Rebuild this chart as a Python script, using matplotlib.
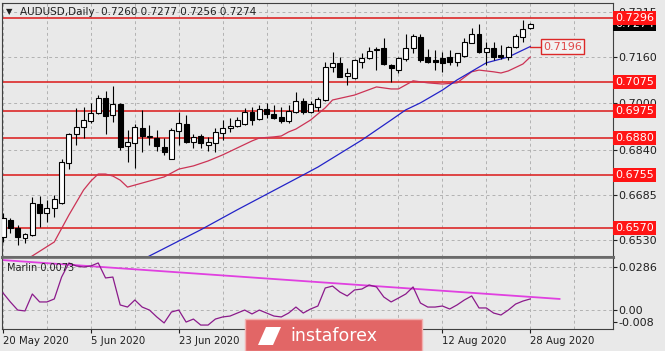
import matplotlib
matplotlib.use("Agg")
import matplotlib.pyplot as plt
import matplotlib.transforms as mtransforms
from matplotlib.patches import Rectangle, Polygon

W, H = 665, 351

# daily candles, 20 May 2020 .. 28 Aug 2020
opens = [0.6541, 0.6599, 0.6572, 0.6537, 0.6548, 0.6654, 0.6623, 0.6641, 0.6658, 0.6795,
         0.6895, 0.6919, 0.6940, 0.6967, 0.7019, 0.6961, 0.6999, 0.6854, 0.6864, 0.6916,
         0.6885, 0.6882, 0.6851, 0.6809, 0.6906, 0.6930, 0.6868, 0.6888, 0.6857, 0.6864,
         0.6899, 0.6916, 0.6923, 0.6930, 0.6971, 0.6947, 0.6981, 0.6964, 0.6954, 0.6940,
         0.6971, 0.7009, 0.6971, 0.6988, 0.7012, 0.7126, 0.7140, 0.7095, 0.7088, 0.7143,
         0.7157, 0.7184, 0.7191, 0.7133, 0.7115, 0.7153, 0.7191, 0.7229, 0.7160, 0.7150,
         0.7157, 0.7160, 0.7143, 0.7164, 0.7208, 0.7239, 0.7177, 0.7191, 0.7167, 0.7160,
         0.7195, 0.7229, 0.7260]
highs = [0.6623, 0.6606, 0.6582, 0.6555, 0.6679, 0.6682, 0.6668, 0.6685, 0.6809, 0.6899,
         0.6985, 0.6988, 0.7002, 0.7029, 0.7043, 0.7060, 0.7002, 0.6909, 0.6930, 0.6978,
         0.6926, 0.6909, 0.6882, 0.6916, 0.6971, 0.6961, 0.6895, 0.6895, 0.6885, 0.6916,
         0.6943, 0.6950, 0.6954, 0.6985, 0.6988, 0.6995, 0.7002, 0.6995, 0.6988, 0.6995,
         0.7040, 0.7019, 0.7009, 0.7023, 0.7143, 0.7177, 0.7160, 0.7122, 0.7153, 0.7174,
         0.7195, 0.7195, 0.7226, 0.7136, 0.7160, 0.7239, 0.7239, 0.7239, 0.7188, 0.7184,
         0.7177, 0.7184, 0.7174, 0.7226, 0.7260, 0.7274, 0.7212, 0.7212, 0.7201, 0.7198,
         0.7239, 0.7287, 0.7277]
lows = [0.6524, 0.6555, 0.6513, 0.6520, 0.6544, 0.6575, 0.6592, 0.6610, 0.6654, 0.6775,
        0.6857, 0.6882, 0.6933, 0.6964, 0.6895, 0.6936, 0.6840, 0.6799, 0.6778, 0.6833,
        0.6857, 0.6837, 0.6823, 0.6809, 0.6857, 0.6864, 0.6847, 0.6847, 0.6837, 0.6833,
        0.6875, 0.6902, 0.6919, 0.6926, 0.6926, 0.6943, 0.6950, 0.6947, 0.6933, 0.6933,
        0.6967, 0.6964, 0.6967, 0.6974, 0.7009, 0.7109, 0.7091, 0.7064, 0.7085, 0.7122,
        0.7153, 0.7115, 0.7133, 0.7074, 0.7105, 0.7146, 0.7174, 0.7143, 0.7140, 0.7115,
        0.7109, 0.7133, 0.7129, 0.7160, 0.7208, 0.7174, 0.7133, 0.7150, 0.7153, 0.7150,
        0.7191, 0.7212, 0.7256]
closes = [0.6606, 0.6572, 0.6541, 0.6551, 0.6658, 0.6623, 0.6641, 0.6672, 0.6799, 0.6895,
          0.6919, 0.6943, 0.6967, 0.7019, 0.6957, 0.6999, 0.6851, 0.6868, 0.6919, 0.6888,
          0.6888, 0.6854, 0.6833, 0.6909, 0.6933, 0.6868, 0.6885, 0.6864, 0.6868, 0.6902,
          0.6916, 0.6923, 0.6943, 0.6971, 0.6943, 0.6981, 0.6964, 0.6950, 0.6940, 0.6974,
          0.7009, 0.6971, 0.6999, 0.7016, 0.7126, 0.7140, 0.7091, 0.7105, 0.7150, 0.7157,
          0.7181, 0.7188, 0.7136, 0.7122, 0.7157, 0.7191, 0.7232, 0.7150, 0.7143, 0.7143,
          0.7140, 0.7143, 0.7174, 0.7212, 0.7239, 0.7177, 0.7191, 0.7160, 0.7160, 0.7195,
          0.7232, 0.7256, 0.7274]

# moving averages
red_idx = [3, 4, 7, 9, 11, 12, 13, 14, 15, 16, 17, 19, 22, 24, 26, 28, 30, 32, 34, 35,
           37, 38, 39, 40, 42, 44, 45, 48, 51, 53, 54, 56, 58, 60, 62, 64, 65, 67, 68, 69,
           71, 72]
red_ma = [0.6460, 0.6475, 0.6523, 0.6616, 0.6702, 0.6733, 0.6757, 0.6757, 0.6750, 0.6736,
          0.6712, 0.6726, 0.6747, 0.6774, 0.6785, 0.6802, 0.6823, 0.6847, 0.6871, 0.6881,
          0.6885, 0.6888, 0.6902, 0.6912, 0.6943, 0.6985, 0.7012, 0.7029, 0.7057, 0.7050,
          0.7050, 0.7078, 0.7071, 0.7067, 0.7071, 0.7109, 0.7115, 0.7109, 0.7105, 0.7112,
          0.7136, 0.7160]
blue_idx = [19, 20, 27, 32, 41, 43, 49, 53, 55, 57, 60, 62, 66, 69, 72]
blue_ma = [0.6461, 0.6475, 0.6565, 0.6634, 0.6754, 0.6781, 0.6874, 0.6943, 0.6978, 0.7002,
           0.7046, 0.7081, 0.7140, 0.7160, 0.7196]

# Marlin oscillator
marlin = [0.0113, 0.0053, -0.0001, -0.0007, 0.0106, 0.0053, 0.0053, 0.0073, 0.0219, 0.0313,
          0.0293, 0.0286, 0.0293, 0.0313, 0.0213, 0.0219, 0.0033, 0.0019, 0.0066, 0.0019,
          -0.0001, -0.0047, -0.0087, -0.0014, -0.0001, -0.0081, -0.0061, -0.0101, -0.0101, -0.0061,
          -0.0047, -0.0041, -0.0021, -0.0001, -0.0027, -0.0001, -0.0021, -0.0041, -0.0047, -0.0021,
          0.0019, -0.0021, 0.0006, 0.0026, 0.0146, 0.0159, 0.0119, 0.0093, 0.0133, 0.0139,
          0.0166, 0.0153, 0.0086, 0.0053, 0.0079, 0.0106, 0.0153, 0.0046, 0.0019, 0.0019,
          0.0026, 0.0006, 0.0033, 0.0066, 0.0093, 0.0013, 0.0013, -0.0021, -0.0034, -0.0001,
          0.0039, 0.0059, 0.0073]
trend_idx = [0, 76]
trend_val = [0.0332, 0.0073]

levels = [0.7296, 0.7075, 0.6975, 0.6880, 0.6755, 0.6570]
price_ticks = [0.7315, 0.7160, 0.7000, 0.6840, 0.6685, 0.6530]
osc_ticks = [0.0286, 0.0, -0.008]
osc_labels = ["0.0286", "0.00", "-0.008"]
date_pos = [0, 12, 24, 60, 72]
date_labels = ["20 May 2020", "5 Jun 2020", "23 Jun 2020", "12 Aug 2020", "28 Aug 2020"]

bg = "#e9e9e9"
grid_c = "#b2b2b2"
dash = (0, (3, 3))

fig = plt.figure(figsize=(W / 100, H / 100), dpi=100, facecolor=bg)


def box(l, t, r, b):
    return [l / W, 1 - b / H, (r - l) / W, (b - t) / H]


ax = fig.add_axes(box(2, 3, 613, 257), facecolor=bg)
ax2 = fig.add_axes(box(2, 258, 613, 329), facecolor=bg)

xmin, xmax = -0.14, 83.3
ax.set_xlim(xmin, xmax)
ax.set_ylim(0.64713, 0.73460)
ax2.set_xlim(xmin, xmax)
ax2.set_ylim(-0.01273, 0.0346)

for a in (ax, ax2):
    for g in range(0, 84, 6):
        a.axvline(g, color=grid_c, lw=0.7, ls=dash, zorder=0)
    for s in a.spines.values():
        s.set_color("#404040")
        s.set_linewidth(0.8)
ax.spines["bottom"].set_color("#6a6a6a")
ax.spines["bottom"].set_linewidth(2.2)
ax2.spines["top"].set_color("#6a6a6a")
ax2.spines["top"].set_linewidth(1.2)

for p in price_ticks:
    ax.axhline(p, color=grid_c, lw=0.7, ls=dash, zorder=0)
for p in [0.0286, 0.0]:
    ax2.axhline(p, color=grid_c, lw=0.7, ls=dash, zorder=0)

# horizontal levels
for lv in levels:
    ax.axhline(lv, color="#dc2828", lw=1.2, zorder=1)

# candles
bw = 0.68
for i in range(len(opens)):
    o, h, l, c = opens[i], highs[i], lows[i], closes[i]
    ax.vlines(i, l, h, color="black", lw=0.8, zorder=3)
    lo = min(o, c)
    ht = max(abs(c - o), 0.00025)
    fc = "white" if c >= o else "black"
    ax.add_patch(Rectangle((i - bw / 2, lo), bw, ht, facecolor=fc,
                           edgecolor="black", lw=0.8, zorder=4))

ax.plot(red_idx, red_ma, color="#cc3355", lw=0.9, zorder=2)
ax.plot(blue_idx, blue_ma, color="#2323c8", lw=0.9, zorder=2)

# right price scale
ax.yaxis.tick_right()
ax.set_yticks(price_ticks)
ax.set_yticklabels([f"{p:.4f}" for p in price_ticks])
ax.tick_params(axis="y", length=3, width=0.8, colors="#202020", labelsize=8, pad=1)
ax.tick_params(axis="x", length=0, labelbottom=False)

tr = mtransforms.blended_transform_factory(ax.transAxes, ax.transData)
ax.text(1.0035, closes[-1], f"{closes[-1]:.4f}", transform=tr, ha="left", va="center",
        color="white", fontsize=8, zorder=9, clip_on=False,
        bbox=dict(boxstyle="square,pad=0.18", fc="black", ec="none"))
for lv in levels:
    ax.text(1.0035, lv, f"{lv:.4f}", transform=tr, ha="left", va="center",
            color="white", fontsize=8, zorder=10, clip_on=False,
            bbox=dict(boxstyle="square,pad=0.18", fc="#ff1414", ec="none"))

# blue MA value tag
ax.plot([blue_idx[-1], 73.5], [blue_ma[-1], blue_ma[-1]], color="#dc2828", lw=1.0, zorder=5)
ax.text(73.75, blue_ma[-1], f"{blue_ma[-1]:.4f}", ha="left", va="center", color="#e04848",
        fontsize=8, zorder=6,
        bbox=dict(boxstyle="square,pad=0.22", fc="#f2f2f2", ec="#dc2828", lw=1.0))

# title
fig.text(6 / W, 1 - 12 / H, "\u25bc", fontsize=6, color="#202020", va="center", ha="left")
fig.text(20 / W, 1 - 12 / H, "AUDUSD,Daily  0.7260 0.7277 0.7256 0.7274",
         fontsize=7.5, color="#202020", va="center", ha="left")

# oscillator panel
ax2.plot(range(len(marlin)), marlin, color="#8b1a8b", lw=0.9, zorder=3)
ax2.plot(trend_idx, trend_val, color="#e040e0", lw=1.3, zorder=2)
ax2.text(0.008, 0.93, "Marlin 0.0073", transform=ax2.transAxes, fontsize=7,
         color="#202020", va="top", ha="left", zorder=5)

ax2.yaxis.tick_right()
ax2.set_yticks(osc_ticks)
ax2.set_yticklabels(osc_labels)
ax2.tick_params(axis="y", length=3, width=0.8, colors="#202020", labelsize=8, pad=1)
ax2.set_xticks(date_pos)
ax2.set_xticklabels(date_labels, ha="left")
ax2.tick_params(axis="x", length=3, width=0.8, colors="#202020", labelsize=7.3, pad=2)

# watermark logo
fig.patches.append(Rectangle((245 / W, 0), 177 / W, 32 / H, transform=fig.transFigure,
                             facecolor="#e26666", edgecolor="#f2b0b0", lw=1.0, zorder=20))
icon = [(258, 345), (266, 327), (281, 327), (273, 345)]
fig.patches.append(Polygon([(x / W, 1 - y / H) for x, y in icon], closed=True,
                           transform=fig.transFigure, facecolor="white",
                           edgecolor="none", zorder=21))
fig.text(290 / W, 1 - 336 / H, "instaforex", fontsize=12.5, color="white",
         va="center", ha="left", zorder=22)

fig.savefig("out.png", dpi=100, facecolor=bg)
